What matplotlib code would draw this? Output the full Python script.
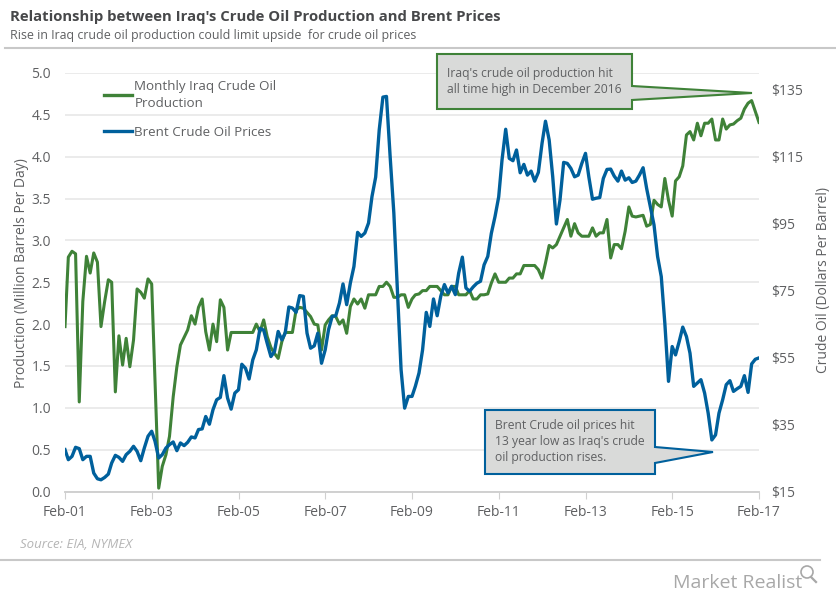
import pandas as pd
from matplotlib import pyplot as plt
from matplotlib.lines import Line2D
from matplotlib.patches import Circle, Polygon

plt.rcParams.update({
    "font.family": ["Open Sans", "DejaVu Sans"],
    "font.size": 10,
})

GREEN = "#3f8238"
BLUE = "#00609c"
TEXT = "#5f6062"

# Million barrels per day, monthly from Feb-01 to Feb-17
production = [
    1.97, 2.80, 2.87, 2.84, 1.07, 2.27, 2.81, 2.61, 2.85, 2.74, 1.97, 2.27,
    2.53, 2.50, 1.19, 1.86, 1.51, 1.83, 1.49, 1.81, 2.42, 2.38, 2.31, 2.54,
    2.48, 1.33, 0.04, 0.30, 0.44, 0.66, 1.13, 1.49, 1.75, 1.84, 1.93, 2.10,
    2.00, 2.20, 2.30, 1.91, 1.69, 2.00, 1.79, 2.29, 2.20, 1.69, 1.90, 1.90,
    1.90, 1.90, 1.90, 1.90, 1.90, 2.00, 1.91, 2.05, 1.85, 1.72, 1.65, 1.59,
    1.79, 1.90, 1.90, 1.90, 2.17, 2.20, 2.19, 2.14, 2.09, 2.00, 1.99, 1.69,
    1.99, 2.05, 2.10, 2.09, 2.00, 2.05, 1.89, 2.21, 2.30, 2.24, 2.30, 2.19,
    2.35, 2.35, 2.35, 2.45, 2.45, 2.50, 2.45, 2.32, 2.32, 2.35, 2.35, 2.20,
    2.30, 2.35, 2.36, 2.40, 2.40, 2.45, 2.45, 2.45, 2.40, 2.35, 2.35, 2.45,
    2.45, 2.35, 2.35, 2.35, 2.40, 2.30, 2.30, 2.35, 2.35, 2.36, 2.49, 2.60,
    2.50, 2.50, 2.50, 2.55, 2.55, 2.60, 2.60, 2.70, 2.70, 2.70, 2.70, 2.65,
    2.55, 2.73, 2.94, 2.91, 2.95, 3.05, 3.15, 3.25, 3.05, 3.20, 3.09, 3.05,
    3.05, 3.05, 3.15, 3.05, 3.09, 3.09, 3.25, 2.79, 2.95, 2.95, 2.90, 3.11,
    3.40, 3.29, 3.28, 3.29, 3.30, 3.17, 3.19, 3.48, 3.43, 3.40, 3.74, 3.48,
    3.29, 3.71, 3.76, 3.89, 4.26, 4.30, 4.20, 4.40, 4.25, 4.40, 4.40, 4.45,
    4.20, 4.20, 4.45, 4.33, 4.38, 4.39, 4.43, 4.46, 4.57, 4.64, 4.67, 4.54,
    4.41,
]

# Dollars per barrel, same months
brent = [
    27.5, 24.5, 25.5, 28.2, 27.8, 24.5, 25.5, 25.5, 20.5, 18.8, 18.5, 19.2,
    20.2, 23.5, 25.8, 25.2, 24.0, 26.0, 27.0, 28.5, 27.0, 24.2, 28.0, 31.5,
    33.0, 30.0, 25.0, 26.0, 28.0, 29.0, 29.8, 27.2, 29.5, 28.7, 29.7, 31.3,
    31.0, 33.5, 33.7, 37.4, 35.1, 39.4, 42.4, 43.1, 49.6, 42.9, 39.6, 44.4,
    45.4, 53.0, 51.8, 48.6, 54.3, 57.3, 63.7, 63.2, 59.2, 55.3, 56.8, 62.8,
    60.3, 62.3, 70.1, 69.8, 68.5, 73.5, 73.3, 62.3, 57.8, 58.5, 62.3, 53.3,
    57.3, 63.3, 67.3, 67.5, 71.3, 77.0, 70.8, 77.3, 82.2, 92.4, 91.2, 92.2,
    95.2, 103.1, 108.9, 123.0, 132.8, 133.0, 115.0, 98.2, 75.3, 51.4, 39.9, 43.4,
    43.4, 46.4, 50.4, 57.3, 68.5, 64.3, 72.5, 67.5, 73.3, 76.8, 74.3, 76.3,
    73.8, 80.2, 85.0, 75.8, 74.8, 76.1, 77.2, 77.8, 82.7, 85.2, 92.1, 97.1,
    103.0, 114.0, 123.2, 114.5, 113.8, 117.0, 110.2, 112.7, 109.5, 110.7, 107.7, 110.3,
    119.0, 125.6, 120.0, 109.0, 94.9, 102.0, 113.3, 113.0, 111.5, 109.0, 109.5, 113.0,
    116.0, 109.0, 102.3, 102.6, 102.8, 108.5, 111.2, 111.3, 109.2, 107.7, 110.7, 108.0,
    108.7, 107.3, 107.7, 109.5, 111.7, 105.5, 100.0, 94.6, 85.2, 79.2, 65.3, 47.9,
    58.3, 55.8, 59.8, 64.1, 61.3, 56.3, 46.4, 47.4, 48.4, 44.4, 38.4, 30.4,
    31.9, 38.4, 42.4, 46.9, 48.1, 44.9, 45.7, 46.4, 49.6, 44.6, 53.1, 54.5,
    54.9,
]

months = pd.date_range("2001-02-01", periods=len(production), freq="MS")
left_ticks = [0.0, 0.5, 1.0, 1.5, 2.0, 2.5, 3.0, 3.5, 4.0, 4.5, 5.0]
right_ticks = [15, 35, 55, 75, 95, 115, 135]

W, H = 836, 599
fig = plt.figure(figsize=(W / 100, H / 100), dpi=100)
ax = fig.add_axes([65 / W, 1 - 491.5 / H, 694 / W, 418.5 / H])
ax2 = ax.twinx()

ax.plot(months, production, color=GREEN, lw=2.2, solid_joinstyle="round")
ax2.plot(months, brent, color=BLUE, lw=2.4, solid_joinstyle="round")

ax.set_xlim(months[0], months[-1])
ax.set_ylim(0, 5)
ax2.set_ylim(15, 140)

ax.set_xticks(months[::24])
ax.set_xticklabels([d.strftime("%b-%y") for d in months[::24]])
ax.set_yticks(left_ticks)
ax.set_yticklabels([f"{t:.1f}" for t in left_ticks])
ax2.set_yticks(right_ticks)
ax2.set_yticklabels([f"${t}" for t in right_ticks])

ax.grid(axis="y", color="#e8e8e8", lw=1.2)
ax.set_axisbelow(True)
for a in (ax, ax2):
    for side in ("top", "left", "right"):
        a.spines[side].set_visible(False)
    a.spines["bottom"].set_color("#d0d0d0")
    a.spines["bottom"].set_linewidth(1.2)
    a.tick_params(axis="y", length=0, labelcolor=TEXT, labelsize=10)
ax.tick_params(axis="y", pad=10)
ax2.tick_params(axis="y", pad=9)
ax.tick_params(axis="x", length=5, color="#d0d0d0", labelcolor=TEXT, labelsize=10, pad=5)

ax.set_ylabel("Production (Million Barrels Per Day)", color=TEXT, fontsize=10)
ax.yaxis.set_label_coords((29 - 65) / 694, (491.5 - 273) / 418.5)
ax2.set_ylabel("Crude Oil (Dollars Per Barrel)", color=TEXT, fontsize=10)
ax2.yaxis.set_label_coords((816 - 65) / 694, (491.5 - 280) / 418.5)

handles = [Line2D([], [], color=GREEN, lw=2.4), Line2D([], [], color=BLUE, lw=2.4)]
leg = ax2.legend(handles, ["Monthly Iraq Crude Oil\nProduction", "Brent Crude Oil Prices"],
                 loc="upper left", bbox_to_anchor=(0.046, 1.0), frameon=False, fontsize=9.6,
                 labelcolor=TEXT, handlelength=2.05, handletextpad=0.2, labelspacing=1.2,
                 borderpad=0.55, borderaxespad=0)
for t in leg.get_texts():
    t.set_linespacing(1.35)

# everything placed by pixel goes on a full figure overlay
over = fig.add_axes([0, 0, 1, 1], zorder=5)
over.set_xlim(0, W)
over.set_ylim(H, 0)
over.axis("off")

over.text(10, 17, "Relationship between Iraq's Crude Oil Production and Brent Prices",
          fontsize=10.7, fontweight="bold", color="#47484a", va="center")
over.text(10, 36, "Rise in Iraq crude oil production could limit upside  for crude oil prices",
          fontsize=8.96, color=TEXT, va="center")
over.plot([5, 836], [47.5, 47.5], color="#c8c8c8", lw=1.5)
over.plot([0, 820], [559.5, 559.5], color="#c8c8c8", lw=1.5)
over.text(20, 545, "Source: EIA, NYMEX", fontsize=9.5, style="italic", color="#b5b5b5", va="center")

over.add_patch(Polygon([(437, 54), (632, 54), (632, 86), (752, 93), (632, 100), (632, 109), (437, 109)],
                       closed=True, fc="#d9dad9", ec=GREEN, lw=1.5))
over.text(447, 81.5, "Iraq's crude oil production hit\nall time high in December 2016",
          fontsize=8.7, color=TEXT, va="center", linespacing=1.3)

over.add_patch(Polygon([(485, 410), (655, 410), (655, 447), (713, 452), (655, 463), (655, 474), (485, 474)],
                       closed=True, fc="#d9dad9", ec=BLUE, lw=1.5))
over.text(495, 442, "Brent Crude oil prices hit\n13 year low as Iraq's crude\noil production rises.",
          fontsize=8.7, color=TEXT, va="center", linespacing=1.3)

over.text(802, 583, "Market Realist", fontsize=14, color="#a8a8a8", va="center", ha="right")
over.add_patch(Circle((807, 572), 6, fc="none", ec="#a8a8a8", lw=1.2))
over.plot([811, 816], [577, 582], color="#a8a8a8", lw=1.6)

fig.savefig("out.png", dpi=100)
